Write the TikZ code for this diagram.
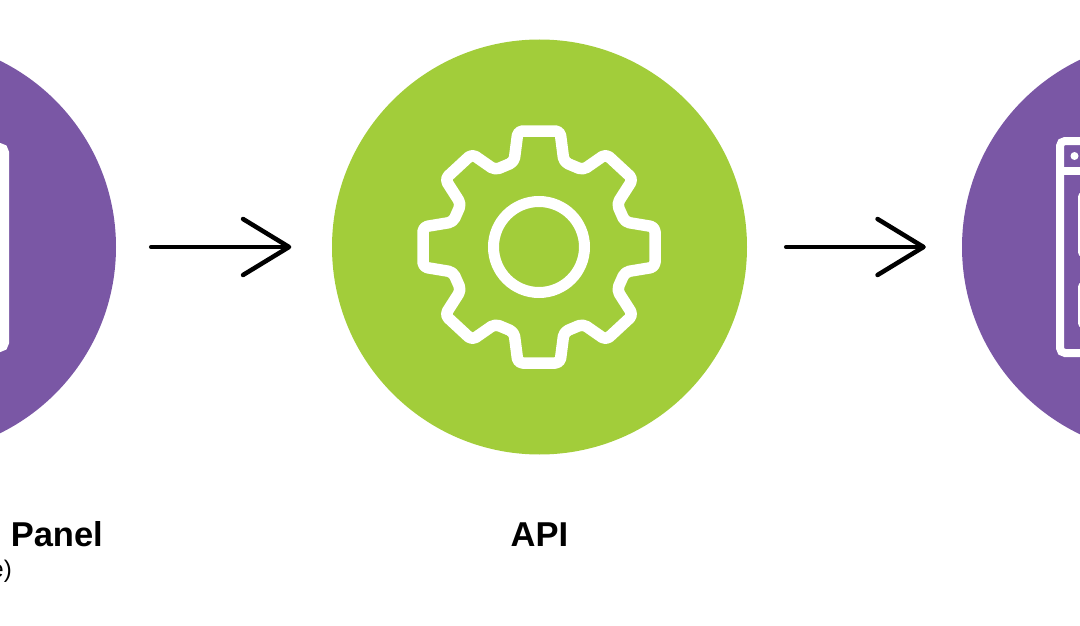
\documentclass[tikz,border=0pt]{standalone}
\usepackage{fontspec}
\setmainfont{Liberation Sans}
\usepackage{xcolor}
\usepackage{tikz}
\usetikzlibrary{positioning, arrows.meta}
\definecolor{hubpurple}{HTML}{7A57A5}
\definecolor{hubgreen}{HTML}{A2CD3A}
\tikzset{
  purpledisc/.style = {circle, fill=hubpurple, minimum size=415pt, inner sep=0pt},
  greendisc/.style  = {circle, fill=hubgreen,  minimum size=415pt, inner sep=0pt},
  iconline/.style   = {draw=white, line width=11.5pt, rounded corners=4.5pt, line join=round},
  pageline/.style   = {draw=white, line width=8pt, rounded corners=5pt},
  flow/.style       = {-{Straight Barb[length=46pt, width=56pt, round]}, line width=4.5pt, line cap=round, black},
  title/.style      = {font=\bfseries\fontsize{34.5}{38}\selectfont, text=black, inner sep=0pt},
  subtitle/.style   = {font=\fontsize{24}{28}\selectfont, text=black, inner sep=0pt}
}

\begin{document}
\begin{tikzpicture}[x=1pt, y=-1pt]

    \clip (0,0) rectangle (1080,626);

    % --- Discs ---------------------------------------------------------------
    \node[purpledisc] (panel) at (-91.5, 247)  {};
    \node[greendisc]  (api)   at (539.5, 247)  {};
    \node[purpledisc] (site)  at (1169.5, 247) {};

    % --- Forward arrows ------------------------------------------------------
    \draw[flow, shorten <=35pt, shorten >=40.5pt] (panel) -- (api);
    \draw[flow, shorten <=39pt, shorten >=36pt] (api)   -- (site);

    % --- Gear ----------------------------------------------------------------
    \begin{scope}[shift={(539,247)}]
      \draw[draw=white, line width=11pt] (0,0) circle (45.5);
      \draw[iconline]
        (-25,-85) -- (-21,-116) -- (21,-116) -- (25,-85)
        -- (44,-77) -- (67,-93) -- (94,-68) -- (78,-43)
        -- (86,-25) -- (116,-20) -- (116,20) -- (86,25)
        -- (78,43) -- (94,68) -- (67,93) -- (44,77)
        -- (25,85) -- (21,116) -- (-21,116) -- (-25,85)
        -- (-44,77) -- (-67,93) -- (-94,68) -- (-78,43)
        -- (-86,25) -- (-116,20) -- (-116,-20) -- (-86,-25)
        -- (-78,-43) -- (-94,-68) -- (-67,-93) -- (-44,-77)
        -- cycle;
    \end{scope}

    % --- Page icons, cut by the frame ----------------------------------------
    \draw[pageline, line width=9pt] (-120,147.5) rectangle (4.5,347.5);

    \draw[pageline] (1060,141) rectangle (1200,353);
    \draw[draw=white, line width=8pt] (1060,171) -- (1200,171);
    \fill[white] (1074.5,156) circle (4);
    \draw[draw=white, line width=4pt, rounded corners=3pt] (1080,194) rectangle (1200,255);
    \draw[draw=white, line width=4pt, rounded corners=3pt] (1080,284) rectangle (1200,326);

    % --- Labels --------------------------------------------------------------
    \node[title, anchor=base east] (paneltext) at (103, 546) {Panel};
    \node[title, anchor=base]      (apitext)   at (539.5, 546) {API};
    \node[subtitle, anchor=base east] (panelnote) at (12, 577) {e)};

\end{tikzpicture}
\end{document}
